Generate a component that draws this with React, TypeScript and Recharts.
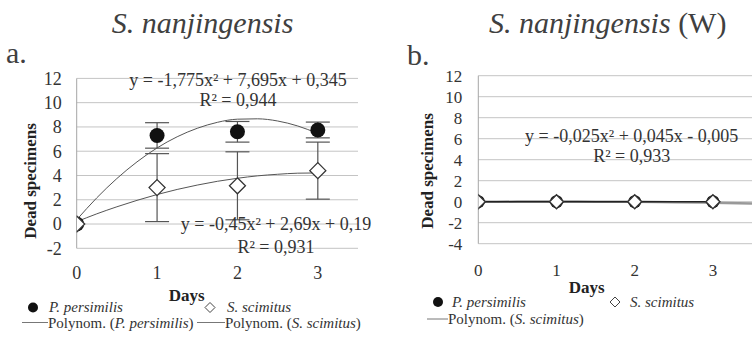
import { ComposedChart, Scatter, Line, XAxis, YAxis, CartesianGrid, ErrorBar } from 'recharts';

// days on the x axis and tick values
const DAYS = [0, 1, 2, 3];
const X_TICKS = [0, 1, 2, 3];
const Y_TICKS_A = [-2, 0, 2, 4, 6, 8, 10, 12];
const Y_TICKS_B = [-4, -2, 0, 2, 4, 6, 8, 10, 12];

// panel a: S. nanjingensis
const PERSIMILIS_A = [0, 7.3, 7.6, 7.75];
const PERSIMILIS_A_ERR = [0, 1.05, 0.85, 0.65];
const SCIMITUS_A = [0, 3.0, 3.15, 4.4];
const SCIMITUS_A_ERR = [0, 2.8, 2.8, 2.35];

// trendline readings (panel a)
const TREND_X_A = [0, 0.25, 0.5, 0.75, 1, 1.25, 1.5, 1.75, 2, 2.25, 2.5, 2.75, 3];
const TREND_PERSIMILIS_A = [0.35, 2.16, 3.75, 5.12, 6.27, 7.19, 7.89, 8.38, 8.64, 8.67, 8.49, 8.08, 7.46];
const TREND_SCIMITUS_A = [0.19, 0.84, 1.42, 1.95, 2.43, 2.85, 3.21, 3.52, 3.77, 3.97, 4.1, 4.19, 4.21];

// panel b: S. nanjingensis (W)
const PERSIMILIS_B = [0, 0, 0, 0];
const SCIMITUS_B = [0, 0, 0, 0];
const TREND_X_B = [0, 0.5, 1, 1.5, 2, 2.5, 3, 3.5];
const TREND_SCIMITUS_B = [-0.005, 0.01, 0.015, 0.006, -0.015, -0.05, -0.095, -0.16];
const TREND_PERSIMILIS_B = [0, 0, 0, 0];

const SERIF = '"Liberation Serif", "Times New Roman", Times, serif';
const TXT = '#333';

const pts = (xs: number[], ys: number[], errs?: number[]) =>
  xs.map((x, i) => ({ x, y: ys[i], err: errs ? errs[i] : 0 }));

const Dot = (r: number) => (p: any) => <circle cx={p.cx} cy={p.cy} r={r} fill="#111" />;
const Diamond = (h: number, sw: number) => (p: any) => (
  <path
    d={`M${p.cx},${p.cy - h}L${p.cx + h},${p.cy}L${p.cx},${p.cy + h}L${p.cx - h},${p.cy}Z`}
    fill="#fff"
    stroke="#333"
    strokeWidth={sw}
  />
);

const tickA = { fontSize: 18, fill: TXT, fontFamily: SERIF, style: { fontFamily: SERIF } };
const tickB = { fontSize: 17, fill: TXT, fontFamily: SERIF, style: { fontFamily: SERIF } };

function PanelA() {
  return (
    <ComposedChart width={380} height={337} margin={{ top: 78.4, right: 22, bottom: 58.7, left: 0 }}
      style={{ fontFamily: SERIF }}>
      <CartesianGrid vertical={false} stroke="#c4c4c4" />
      <XAxis type="number" dataKey="x" domain={[0, 3.5]} ticks={X_TICKS} allowDataOverflow interval={0}
        axisLine={false} tickLine={false} tickSize={0} tickMargin={18} height={30} tick={tickA} />
      <YAxis type="number" domain={[-2, 12]} ticks={Y_TICKS_A} allowDataOverflow width={76.7} interval={0}
        axisLine={{ stroke: '#a6a6a6' }} tickLine={false} tickSize={0} tickMargin={15} tick={tickA} />
      <Line data={pts(TREND_X_A, TREND_PERSIMILIS_A)} dataKey="y" type="monotone" stroke="#555"
        strokeWidth={1} dot={false} activeDot={false} isAnimationActive={false} />
      <Line data={pts(TREND_X_A, TREND_SCIMITUS_A)} dataKey="y" type="monotone" stroke="#555"
        strokeWidth={1} dot={false} activeDot={false} isAnimationActive={false} />
      <Scatter data={pts(DAYS, PERSIMILIS_A, PERSIMILIS_A_ERR)} dataKey="y" shape={Dot(7.5)} isAnimationActive={false}>
        <ErrorBar dataKey="err" direction="y" width={12} stroke="#555" strokeWidth={1.2} />
      </Scatter>
      <Scatter data={pts(DAYS, SCIMITUS_A, SCIMITUS_A_ERR)} dataKey="y" shape={Diamond(8, 1.3)} isAnimationActive={false}>
        <ErrorBar dataKey="err" direction="y" width={12} stroke="#555" strokeWidth={1.2} />
      </Scatter>
    </ComposedChart>
  );
}

function PanelB() {
  return (
    <ComposedChart width={372} height={337} margin={{ top: 75.7, right: 0, bottom: 63.3, left: 0 }}
      style={{ fontFamily: SERIF }}>
      <CartesianGrid vertical={false} stroke="#c4c4c4" />
      <XAxis type="number" dataKey="x" domain={[0, 3.5]} ticks={X_TICKS} allowDataOverflow interval={0}
        axisLine={false} tickLine={false} tickSize={0} tickMargin={20.5} height={30} tick={tickB} />
      <YAxis type="number" domain={[-4, 12]} ticks={Y_TICKS_B} allowDataOverflow width={98.3} interval={0}
        axisLine={{ stroke: '#a6a6a6' }} tickLine={false} tickSize={0} tickMargin={16} tick={tickB} />
      <Line data={pts(TREND_X_B, TREND_SCIMITUS_B)} dataKey="y" type="monotone" stroke="#999"
        strokeWidth={2.5} dot={false} activeDot={false} isAnimationActive={false} />
      <Line data={pts(DAYS, TREND_PERSIMILIS_B)} dataKey="y" type="linear" stroke="#222"
        strokeWidth={1.5} dot={false} activeDot={false} isAnimationActive={false} />
      <Scatter data={pts(DAYS, PERSIMILIS_B)} dataKey="y" shape={Dot(6.5)} isAnimationActive={false} />
      <Scatter data={pts(DAYS, SCIMITUS_B)} dataKey="y" shape={Diamond(7, 1.5)} isAnimationActive={false} />
    </ComposedChart>
  );
}

function Overlay() {
  const leg = { fontSize: 15, fill: TXT, fontFamily: SERIF };
  const eq = { fontSize: 18, fill: TXT, fontFamily: SERIF, textAnchor: 'middle' as const };
  const axisTitle = { fontSize: 17, fill: '#222', fontFamily: SERIF, fontWeight: 700, textAnchor: 'middle' as const };
  return (
    <svg width={752} height={337} style={{ position: 'absolute', left: 0, top: 0, pointerEvents: 'none', fontFamily: SERIF }}>
      {/* titles */}
      <text x={202.5} y={33} textAnchor="middle" fontSize={30} fontStyle="italic" fill="#404040" fontFamily={SERIF}>
        S. nanjingensis
      </text>
      <text x={607.7} y={33} textAnchor="middle" fontSize={30} fill="#404040" fontFamily={SERIF}>
        <tspan fontStyle="italic">S. nanjingensis</tspan> (W)
      </text>
      <text x={6} y={63} fontSize={30} fill="#404040" fontFamily={SERIF}>a.</text>
      <text x={407} y={65} fontSize={30} fill="#404040" fontFamily={SERIF}>b.</text>

      {/* axis titles */}
      <text {...axisTitle} transform="translate(36,181) rotate(-90)">Dead specimens</text>
      <text {...axisTitle} transform="translate(433,171) rotate(-90)">Dead specimens</text>
      <text {...axisTitle} x={186.7} y={301}>Days</text>
      <text {...axisTitle} x={586.7} y={292.5}>Days</text>

      {/* trendline equations */}
      <text {...eq} x={238} y={86}>y = -1,775x² + 7,695x + 0,345</text>
      <text {...eq} x={238} y={106}>R² = 0,944</text>
      <text {...eq} x={276} y={230}>y = -0,45x² + 2,69x + 0,19</text>
      <text {...eq} x={276} y={253}>R² = 0,931</text>
      <text {...eq} x={631.7} y={142}>y = -0,025x² + 0,045x - 0,005</text>
      <text {...eq} x={631.7} y={162}>R² = 0,933</text>

      {/* legend a */}
      <circle cx={33} cy={307.5} r={5} fill="#111" />
      <text {...leg} x={49} y={312} fontStyle="italic">P. persimilis</text>
      <path d="M210,302.5L215,307.5L210,312.5L205,307.5Z" fill="#fff" stroke="#444" strokeWidth={1} />
      <text {...leg} x={227} y={312} fontStyle="italic">S. scimitus</text>
      <line x1={22} y1={322.5} x2={48} y2={322.5} stroke="#777" strokeWidth={1} />
      <text {...leg} x={48} y={328}>Polynom. (<tspan fontStyle="italic">P. persimilis</tspan>)</text>
      <line x1={197} y1={322.5} x2={225} y2={322.5} stroke="#777" strokeWidth={1} />
      <text {...leg} x={225} y={328}>Polynom. (<tspan fontStyle="italic">S. scimitus</tspan>)</text>

      {/* legend b */}
      <circle cx={438} cy={302} r={5} fill="#111" />
      <text {...leg} x={452} y={307} fontStyle="italic">P. persimilis</text>
      <path d="M615,297L620,302L615,307L610,302Z" fill="#fff" stroke="#444" strokeWidth={1} />
      <text {...leg} x={630} y={307} fontStyle="italic">S. scimitus</text>
      <line x1={427} y1={319} x2={448} y2={319} stroke="#777" strokeWidth={1} />
      <text {...leg} x={448} y={324}>Polynom. (<tspan fontStyle="italic">S. scimitus</tspan>)</text>
    </svg>
  );
}

export default function App() {
  return (
    <div style={{ position: 'absolute', left: 0, top: 0, width: 752, height: 337, background: '#fff', overflow: 'hidden', fontFamily: SERIF }}>
      <div style={{ position: 'absolute', left: 0, top: 0 }}>
        <PanelA />
      </div>
      <div style={{ position: 'absolute', left: 380, top: 0 }}>
        <PanelB />
      </div>
      <Overlay />
    </div>
  );
}
